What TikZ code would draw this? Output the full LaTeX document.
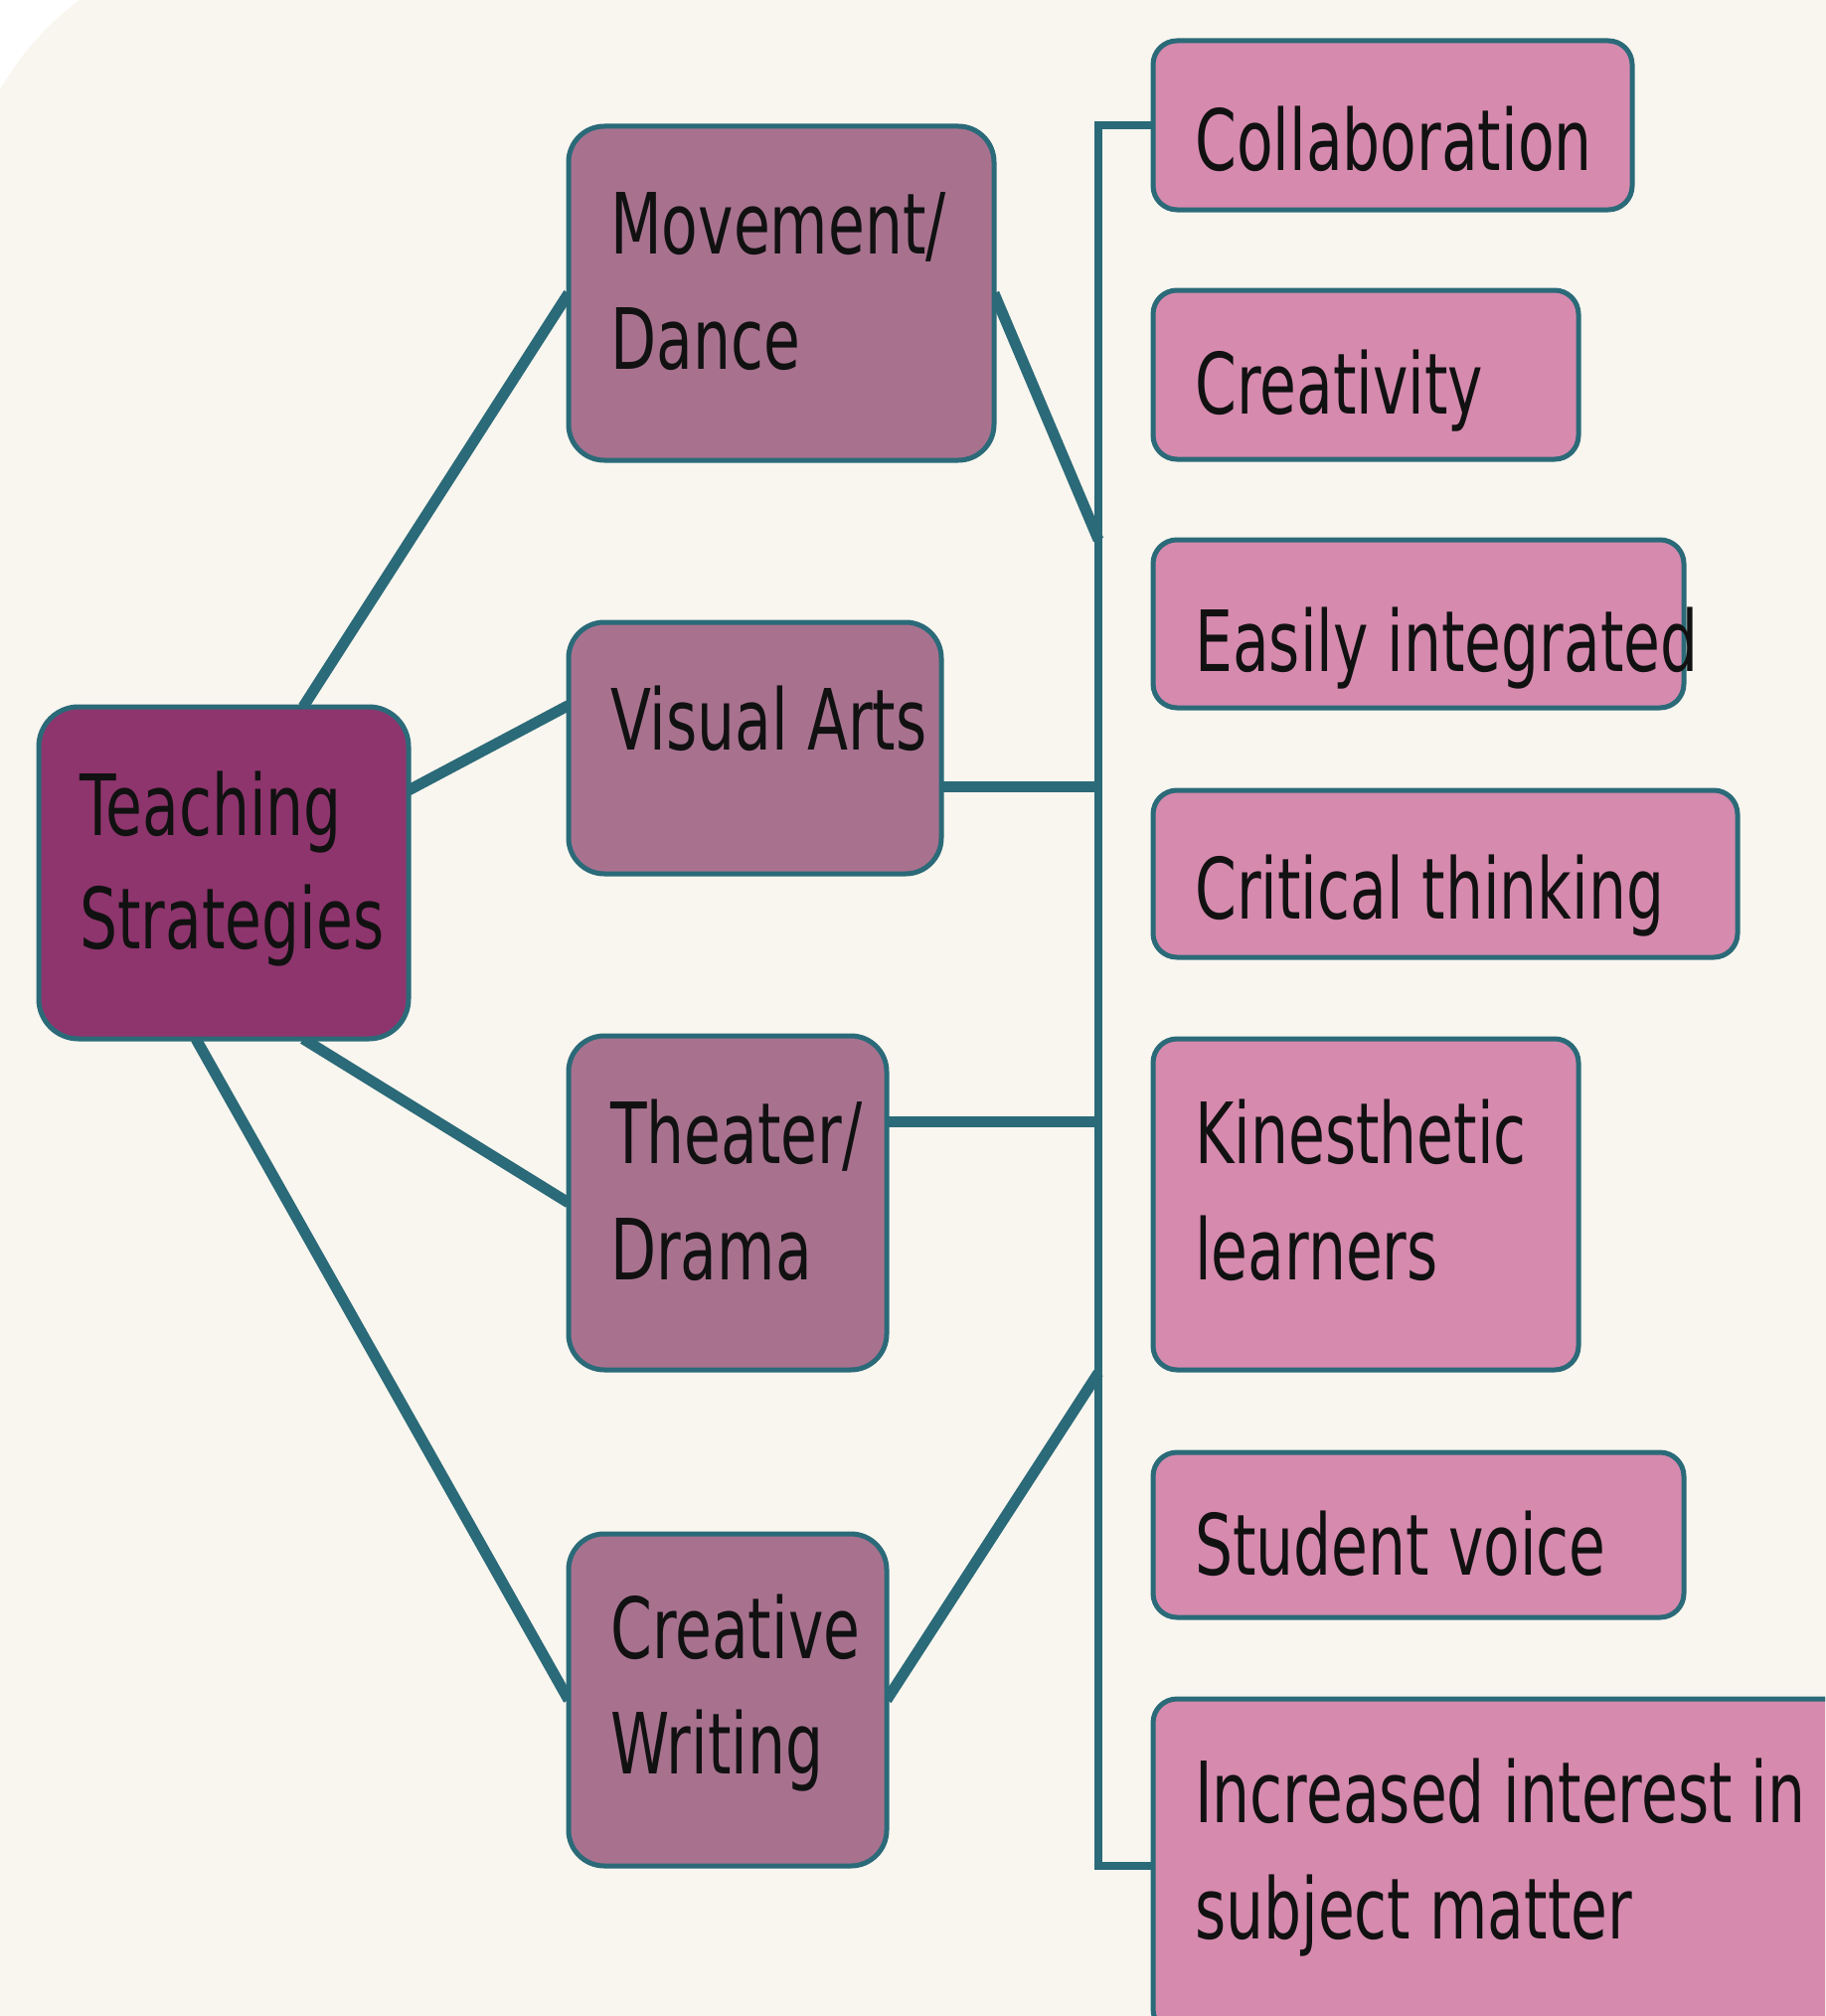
\documentclass[tikz,border=0pt]{standalone}
\usepackage{fontspec}
\setmainfont{DejaVu Sans}[FakeStretch=0.705]
\usetikzlibrary{calc}
\definecolor{bgc}{HTML}{F9F6EF}
\definecolor{tealc}{HTML}{2B6A78}
\definecolor{rootc}{HTML}{8E356D}
\definecolor{midc}{HTML}{A8728F}
\definecolor{leafc}{HTML}{D68AAE}
\definecolor{txtc}{HTML}{111111}
\pgfdeclarelayer{bg}
\pgfsetlayers{bg,main}
\begin{document}
\begin{tikzpicture}[x=1pt,y=-1pt,
  box/.style={draw=tealc,line width=5pt,rounded corners=28pt,anchor=north west,inner sep=0pt,outer sep=0pt},
  rootbox/.style={box,fill=rootc,rounded corners=40pt},
  midbox/.style={box,fill=midc,rounded corners=36pt},
  leafbox/.style={box,fill=leafc,rounded corners=24pt},
  txt/.style={anchor=base west,inner sep=0pt,text=txtc,font=\fontsize{85}{114}\selectfont},
  conn/.style={draw=tealc,line width=11pt},
  bus/.style={draw=tealc,line width=8pt}]
\useasboundingbox (0,0) rectangle (1836,2028);
\clip (0,0) rectangle (1836,2028);

% root
\node[rootbox,minimum width=372pt,minimum height=334pt] (ts) at (39,711) {};
\node[txt] (tsA) at (80,840) {Teaching};
\node[txt] (tsB) at (80,954) {Strategies};

% middle
\node[midbox,minimum width=428pt,minimum height=336pt] (md) at (572,127) {};
\node[txt] (mdA) at (614,255) {Movement/};
\node[txt] (mdB) at (614,371) {Dance};

\node[midbox,minimum width=375pt,minimum height=253pt] (va) at (572,626) {};
\node[txt] (vaA) at (614,754) {Visual Arts};

\node[midbox,minimum width=320pt,minimum height=336pt] (td) at (572,1042) {};
\node[txt] (tdA) at (614,1170) {Theater/};
\node[txt] (tdB) at (614,1287) {Drama};

\node[midbox,minimum width=320pt,minimum height=334pt] (cw) at (572,1543) {};
\node[txt] (cwA) at (614,1668) {Creative};
\node[txt] (cwB) at (614,1784) {Writing};

% leaves
\node[leafbox,minimum width=482pt,minimum height=170pt] (col) at (1160,41) {};
\node[txt] (colA) at (1202,172) {Collaboration};

\node[leafbox,minimum width=428pt,minimum height=170pt] (cre) at (1160,292) {};
\node[txt] (creA) at (1202,416) {Creativity};

\node[leafbox,minimum width=534pt,minimum height=169pt] (eas) at (1160,543) {};
\node[txt] (easA) at (1202,675) {Easily integrated};

\node[leafbox,minimum width=588pt,minimum height=168pt] (cri) at (1160,795) {};
\node[txt] (criA) at (1202,924) {Critical thinking};

\node[leafbox,minimum width=428pt,minimum height=333pt] (kin) at (1160,1045) {};
\node[txt] (kinA) at (1202,1170) {Kinesthetic};
\node[txt] (kinB) at (1202,1287) {learners};

\node[leafbox,minimum width=740pt,minimum height=336pt] (inc) at (1160,1709) {};
\node[txt] (incA) at (1202,1833) {Increased interest in};
\node[txt] (incB) at (1202,1950) {subject matter};

\node[leafbox,minimum width=534pt,minimum height=166pt] (stu) at (1160,1461) {};
\node[txt] (stuA) at (1202,1584) {Student voice};

% bus points
\coordinate (b1) at (1105,543);
\coordinate (b2) at (1105,791);
\coordinate (b3) at (1105,1128);
\coordinate (b4) at (1105,1381);

\begin{pgfonlayer}{bg}
\fill[white] (0,0) rectangle (1836,2028);
\fill[bgc,rounded corners=300pt] (-40,-60) rectangle (2500,2700);
\path[conn] ($(ts.north)+(80,0)$) -- (md.west);
\path[conn] ($(ts.east)+(0,-83)$) -- ($(va.west)+(0,-43)$);
\path[conn] ($(ts.south)+(80,0)$) -- (td.west);
\path[conn] ($(ts.south)+(-28,0)$) -- (cw.west);
\path[conn] (md.east) -- (b1);
\path[conn] (va.east |- b2) -- (b2);
\path[conn] (td.east |- b3) -- (b3);
\path[conn] (cw.east) -- (b4);
\path[bus] (col.west) -- ++(-55,0) |- (inc.west);
\end{pgfonlayer}
\end{tikzpicture}
\end{document}
